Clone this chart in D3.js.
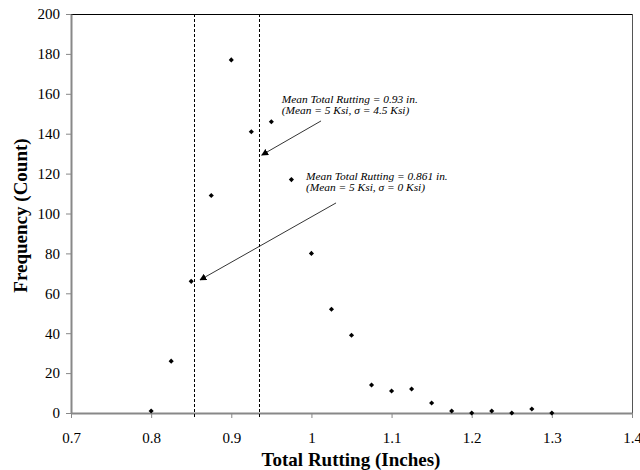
<!DOCTYPE html>
<html><head><meta charset="utf-8">
<script src="https://cdn.jsdelivr.net/npm/d3@7"></script>
<style>body{margin:0;background:#fff}svg{display:block}text{font-family:"Liberation Serif","Times New Roman",serif}</style>
</head><body><svg id="c" width="640" height="470"></svg>
<script>
const rutting = [0.8,0.825,0.85,0.875,0.9,0.925,0.95,0.975,1.0,1.025,1.05,1.075,1.1,1.125,1.15,1.175,1.2,1.225,1.25,1.275,1.3];
const frequency = [1,26,66,109,177,141,146,117,80,52,39,14,11,12,5,1,0,1,0,2,0];
const xTicks = [0.7,0.8,0.9,1,1.1,1.2,1.3,1.4];
const yTicks = [0,20,40,60,80,100,120,140,160,180,200];
const meanLines = [0.853,0.935];
const annotations = [
  {lines:["Mean Total Rutting = 0.93 in.","(Mean = 5 Ksi, \u03c3 = 4.5 Ksi)"], tx:0.9629, ty:155.3, fromX:1.012, fromY:146.4, toX:0.938, toY:129.3},
  {lines:["Mean Total Rutting = 0.861 in.","(Mean = 5 Ksi, \u03c3 = 0 Ksi)"], tx:0.9932, ty:116.8, fromX:1.0307, fromY:105.3, toX:0.861, toY:66.7}
];

const svg = d3.select("#c");
const m = {l:71, r:632, t:14, b:413};
const x = d3.scaleLinear().domain([0.7,1.4]).range([m.l,m.r]);
const y = d3.scaleLinear().domain([0,200]).range([m.b,m.t]);
const serif = "'Liberation Serif','Times New Roman',serif";

// frame top/right
svg.append("line").attr("x1",m.l).attr("x2",m.r).attr("y1",m.t+0.5).attr("y2",m.t+0.5).attr("stroke","#000").attr("stroke-width",1);
svg.append("line").attr("x1",m.r+0.5).attr("x2",m.r+0.5).attr("y1",m.t).attr("y2",m.b).attr("stroke","#555").attr("stroke-width",1);

// axes
const xa = svg.append("g").attr("transform",`translate(0,${m.b})`)
  .call(d3.axisBottom(x).tickValues(xTicks).tickFormat(d=>String(+d.toFixed(1))).tickSize(5).tickSizeOuter(0));
const ya = svg.append("g").attr("transform",`translate(${m.l},0)`)
  .call(d3.axisLeft(y).tickValues(yTicks).tickSize(5).tickPadding(6).tickSizeOuter(0));
[xa,ya].forEach(g=>{
  g.attr("font-family",serif).attr("font-size",15);
  g.select(".domain").attr("stroke","#888").attr("stroke-width",2);
  g.selectAll(".tick line").attr("stroke","#888");
  g.selectAll("text").attr("fill","#000");
});
xa.selectAll("text").attr("y",30).attr("dy",0);

// dashed mean lines
svg.selectAll(".ml").data(meanLines).join("line")
  .attr("x1",d=>Math.round(x(d))+0.5).attr("x2",d=>Math.round(x(d))+0.5)
  .attr("y1",m.t).attr("y2",m.b+4)
  .attr("stroke","#000").attr("stroke-width",1).attr("stroke-dasharray","3,2");

// points
svg.selectAll(".pt").data(rutting).join("path")
  .attr("d",d3.symbol(d3.symbolSquare,13))
  .attr("transform",(d,i)=>`translate(${x(d)},${y(frequency[i])}) rotate(45)`)
  .attr("fill","#000");

// arrows
svg.append("defs").append("marker").attr("id","ah").attr("viewBox","0 0 10 10").attr("refX",9).attr("refY",5)
  .attr("markerWidth",7).attr("markerHeight",7).attr("markerUnits","userSpaceOnUse").attr("orient","auto")
  .append("path").attr("d","M0,0L10,5L0,10z").attr("fill","#000");
annotations.forEach(a=>{
  svg.append("line").attr("x1",x(a.fromX)).attr("y1",y(a.fromY)).attr("x2",x(a.toX)).attr("y2",y(a.toY))
    .attr("stroke","#000").attr("stroke-width",0.8).attr("marker-end","url(#ah)");
  const t = svg.append("text").attr("x",x(a.tx)).attr("y",y(a.ty)).attr("font-size",11.4).attr("font-style","italic");
  a.lines.forEach((s,i)=>t.append("tspan").attr("x",x(a.tx)).attr("dy",i?11:0).text(s));
});

// axis titles
svg.append("text").attr("x",351).attr("y",466).attr("text-anchor","middle")
  .attr("font-size",19).attr("font-weight","bold").text("Total Rutting (Inches)");
svg.append("text").attr("transform",`translate(27,${(m.t+m.b)/2+2}) rotate(-90)`).attr("text-anchor","middle")
  .attr("font-size",19).attr("font-weight","bold").text("Frequency (Count)");
</script></body></html>
